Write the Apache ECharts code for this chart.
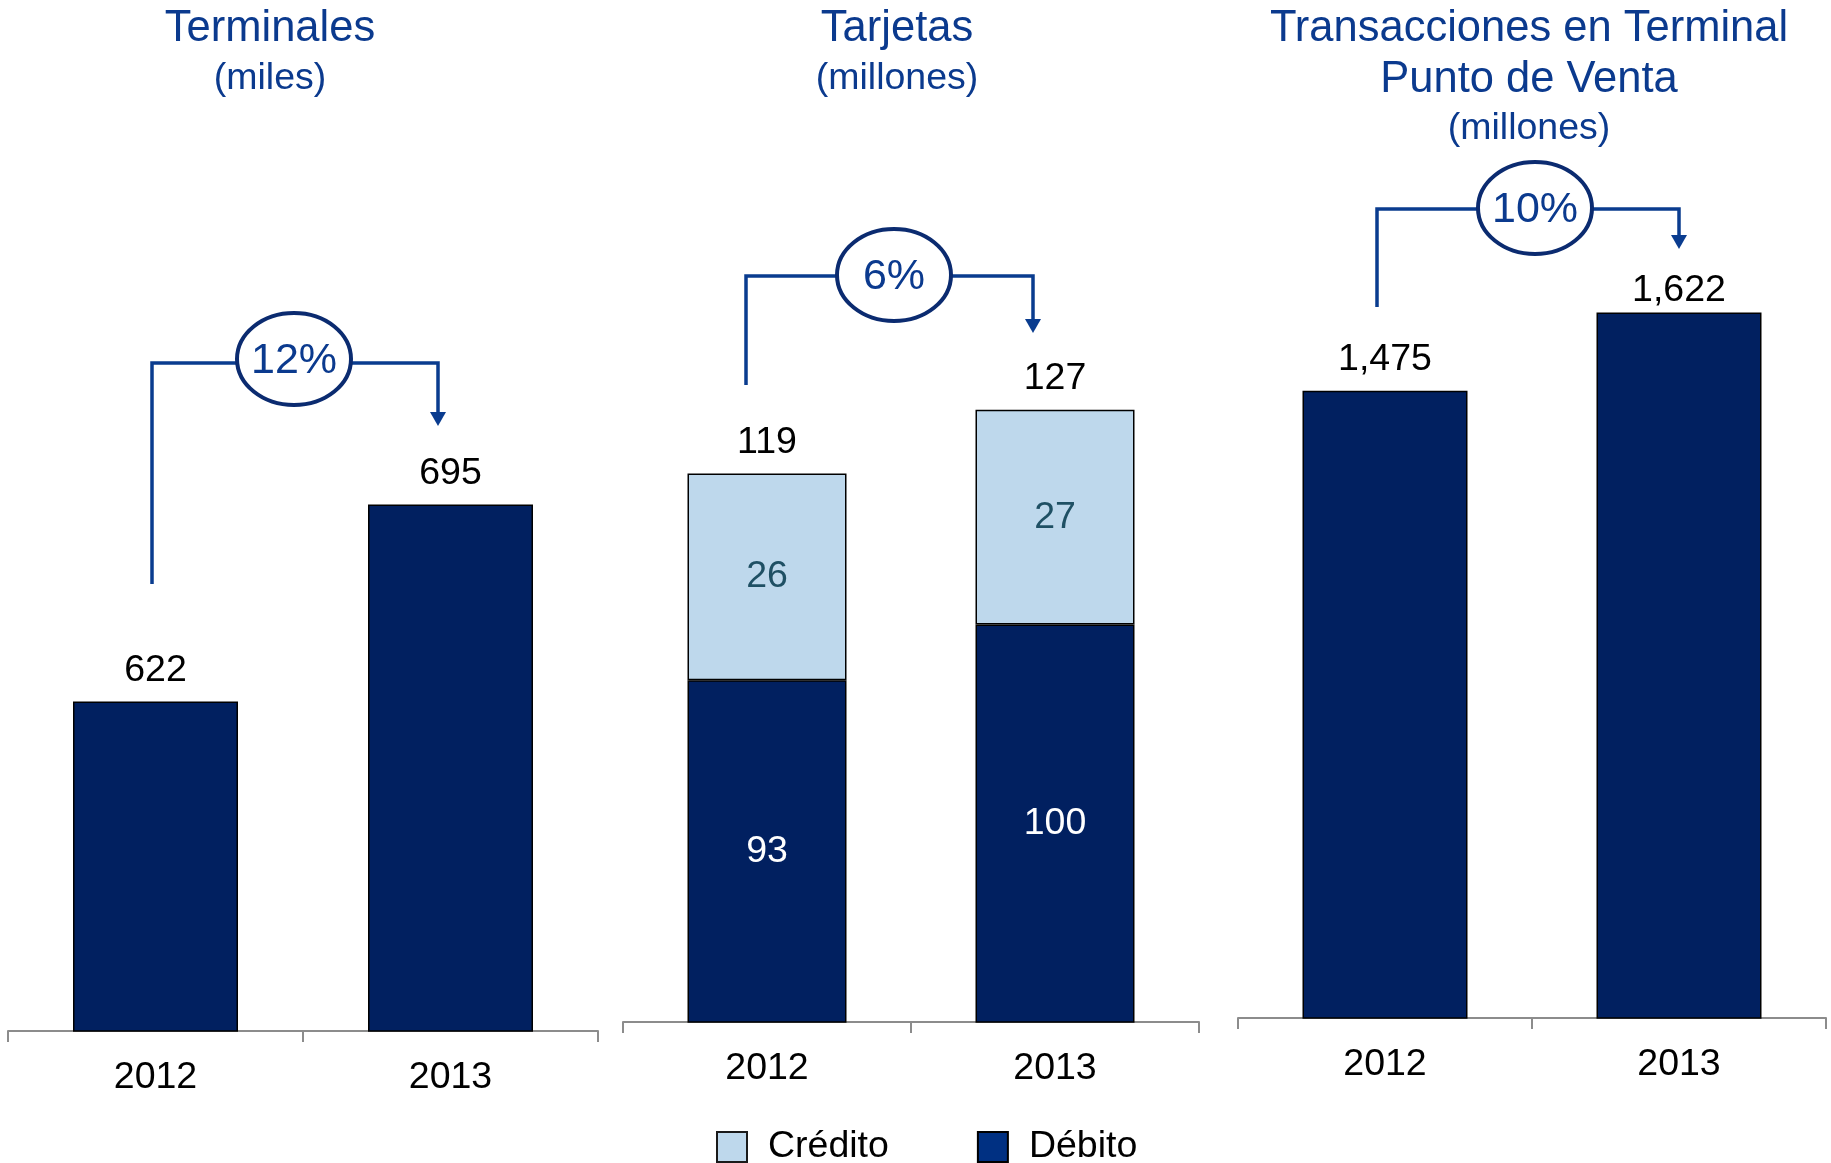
<!DOCTYPE html>
<html>
<head>
<meta charset="utf-8">
<title>Terminales, Tarjetas y Transacciones</title>
<script src="https://cdn.jsdelivr.net/npm/echarts@6/dist/echarts.min.js"></script>
<style>
  html, body { margin: 0; padding: 0; background: #fff; }
  #chart { width: 1831px; height: 1163px; }
</style>
</head>
<body>
<div id="chart"></div>
<script>
// datos
const years = ["2012", "2013"];
const terminales = [622, 695];
const tarjetasDebito = [93, 100];
const tarjetasCredito = [26, 27];
const tarjetasTotal = [119, 127];
const transacciones = [1475, 1622];
const crecimiento = ["12%", "6%", "10%"];

const FONT = "Liberation Sans, Arial, sans-serif";
const AZUL = "#0B3A8E";
const BARRA = "#012060";
const CLARO = "#BED8EC";
const TXT = 37.5;

function xAxisCfg(i) {
  return {
    type: "category",
    gridIndex: i,
    data: years,
    axisLine: { onZero: false, lineStyle: { color: "#8c8c8c", width: 2 } },
    axisTick: { show: true, length: 11, alignWithLabel: false, lineStyle: { color: "#8c8c8c", width: 2 } },
    axisLabel: { fontSize: TXT, color: "#000", fontFamily: FONT, margin: 28 },
  };
}

function yAxisCfg(i, min, max) {
  return { type: "value", gridIndex: i, min: min, max: max, show: false };
}

const topLabel = {
  show: true,
  position: "top",
  distance: 12,
  fontSize: TXT,
  color: "#000",
  fontFamily: FONT,
};

// corchetes de crecimiento
const brackets = [
  { pct: crecimiento[0], xl: 152, yb: 584, yh: 363, cx: 294, cy: 359, xr: 438, tip: 426 },
  { pct: crecimiento[1], xl: 746, yb: 385, yh: 276, cx: 894, cy: 275, xr: 1033, tip: 333 },
  { pct: crecimiento[2], xl: 1377, yb: 307, yh: 209, cx: 1535, cy: 208, xr: 1679, tip: 249 },
];
const rx = 57, ry = 46;

let graphics = [];
brackets.forEach((b) => {
  graphics.push({
    type: "polyline",
    shape: { points: [[b.xl, b.yb], [b.xl, b.yh], [b.cx - rx + 1, b.yh]] },
    style: { stroke: "#0A3C8F", lineWidth: 3.5, fill: null },
  });
  graphics.push({
    type: "polyline",
    shape: { points: [[b.cx + rx - 1, b.yh], [b.xr, b.yh], [b.xr, b.tip - 12]] },
    style: { stroke: "#0A3C8F", lineWidth: 3.5, fill: null },
  });
  graphics.push({
    type: "polygon",
    shape: { points: [[b.xr - 8, b.tip - 14], [b.xr + 8, b.tip - 14], [b.xr, b.tip]] },
    style: { fill: "#0A3C8F" },
  });
  graphics.push({
    type: "ellipse",
    shape: { cx: b.cx, cy: b.cy, rx: rx, ry: ry },
    style: { fill: "#fff", stroke: "#0B2B70", lineWidth: 4 },
    z: 10,
  });
  graphics.push({
    type: "text",
    x: b.cx,
    y: b.cy + 2,
    z: 11,
    style: {
      text: b.pct, font: "43px " + FONT, fill: AZUL,
      align: "center", verticalAlign: "middle",
      textAlign: "center", textVerticalAlign: "middle",
    },
  });
});

// titulos
const titulos = [
  { x: 270, lines: [["Terminales", 43.5, 29], ["(miles)", 37.5, 79]] },
  { x: 897, lines: [["Tarjetas", 43.5, 29], ["(millones)", 37.5, 79]] },
  { x: 1529, lines: [["Transacciones en Terminal", 43.5, 29], ["Punto de Venta", 43.5, 80], ["(millones)", 37.5, 129]] },
];
titulos.forEach((t) => {
  t.lines.forEach((l) => {
    graphics.push({
      type: "text",
      x: t.x,
      y: l[2],
      style: {
        text: l[0], font: l[1] + "px " + FONT, fill: AZUL,
        align: "center", verticalAlign: "middle",
        textAlign: "center", textVerticalAlign: "middle",
      },
    });
  });
});

const chart = echarts.init(document.getElementById("chart"));
const option = {
  animation: false,
  backgroundColor: "#fff",
  grid: [
    { left: 8, width: 590, top: 221, bottom: 132 },
    { left: 623, width: 576, top: 227, bottom: 141 },
    { left: 1238, width: 588, top: 164, bottom: 145 },
  ],
  xAxis: [xAxisCfg(0), xAxisCfg(1), xAxisCfg(2)],
  yAxis: [yAxisCfg(0, 500, 800), yAxisCfg(1, 50, 150), yAxisCfg(2, 300, 1900)],
  legend: {
    data: [
      { name: "Crédito", itemStyle: { color: CLARO, borderColor: "#1a1a1a", borderWidth: 2 } },
      { name: "Débito", itemStyle: { color: "#003082", borderColor: "#000", borderWidth: 2 } },
    ],
    icon: "rect",
    left: 716,
    top: 1128,
    padding: 0,
    itemWidth: 30,
    itemHeight: 30,
    itemGap: 88,
    textStyle: { fontSize: TXT, color: "#000", fontFamily: FONT, padding: [0, 0, 0, 16] },
    selectedMode: false,
  },
  series: [
    {
      name: "Terminales",
      type: "bar",
      xAxisIndex: 0,
      yAxisIndex: 0,
      barWidth: 165,
      data: terminales,
      itemStyle: { color: BARRA, borderColor: "#000", borderWidth: 1.5 },
      label: topLabel,
    },
    {
      name: "Débito",
      type: "bar",
      xAxisIndex: 1,
      yAxisIndex: 1,
      stack: "tarjetas",
      barWidth: 159,
      barGap: "-100%",
      data: tarjetasDebito,
      itemStyle: { color: BARRA, borderColor: "#000", borderWidth: 1.5 },
      label: { show: true, position: "inside", fontSize: TXT, color: "#fff", fontFamily: FONT },
    },
    {
      name: "Crédito",
      type: "bar",
      xAxisIndex: 1,
      yAxisIndex: 1,
      stack: "tarjetas",
      barWidth: 159,
      barGap: "-100%",
      data: tarjetasCredito,
      itemStyle: { color: CLARO, borderColor: "#000", borderWidth: 1.5 },
      label: { show: true, position: "inside", fontSize: TXT, color: "#1F5064", fontFamily: FONT },
    },
    {
      name: "Total",
      type: "bar",
      xAxisIndex: 1,
      yAxisIndex: 1,
      barWidth: 159,
      barGap: "-100%",
      silent: true,
      data: tarjetasTotal,
      itemStyle: { color: "rgba(0,0,0,0)", borderWidth: 0 },
      label: topLabel,
    },
    {
      name: "Transacciones",
      type: "bar",
      xAxisIndex: 2,
      yAxisIndex: 2,
      barWidth: 165,
      // la etiqueta de 2013 va más pegada a la barra
      data: transacciones.map((v, i) => (i === 1 ? { value: v, label: { distance: 3 } } : v)),
      itemStyle: { color: BARRA, borderColor: "#000", borderWidth: 1.5 },
      label: Object.assign({}, topLabel, {
        formatter: (p) => p.value.toLocaleString("en-US"),
      }),
    },
  ],
  graphic: { elements: graphics },
};
chart.setOption(option);
</script>
</body>
</html>
